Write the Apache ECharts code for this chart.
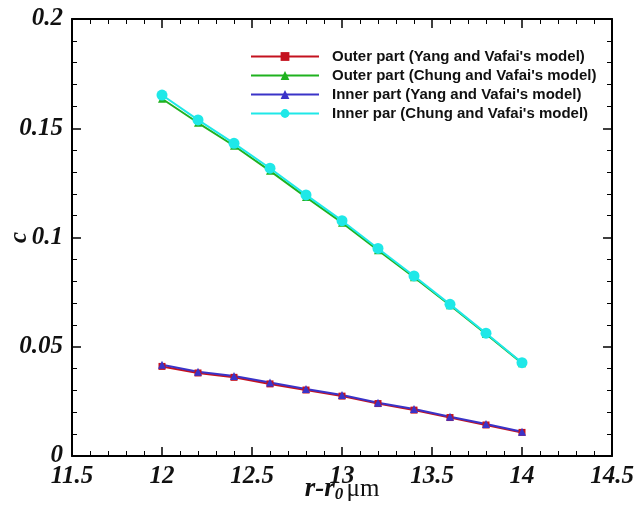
<!DOCTYPE html>
<html>
<head>
<meta charset="utf-8">
<script src="https://cdn.jsdelivr.net/npm/echarts@6/dist/echarts.min.js"></script>
<style>
    html, body { margin: 0; padding: 0; background: #fff; }
    #chart { width: 635px; height: 508px; }
</style>
</head>
<body>
<div id="chart"></div>
<script>
// r - r0 (μm)
var xValues = [12, 12.2, 12.4, 12.6, 12.8, 13, 13.2, 13.4, 13.6, 13.8, 14];

var outerYang  = [0.041, 0.038, 0.036, 0.033, 0.0302, 0.0274, 0.024, 0.021, 0.0176, 0.0142, 0.0108];
var outerChung = [0.1635, 0.1525, 0.142, 0.1305, 0.1185, 0.1068, 0.0942, 0.0818, 0.069, 0.0558, 0.0425];
var innerYang  = [0.0418, 0.0386, 0.0366, 0.0336, 0.0307, 0.0279, 0.0244, 0.0215, 0.018, 0.0146, 0.0111];
var innerChung = [0.1652, 0.1538, 0.1431, 0.1317, 0.1195, 0.1077, 0.095, 0.0824, 0.0694, 0.0562, 0.0427];

var seriesNames = [
    "Outer part (Yang and Vafai's model)",
    "Outer part (Chung and Vafai's model)",
    "Inner part (Yang and Vafai's model)",
    "Inner par (Chung and Vafai's model)"
];

function pairs(ys) {
    return xValues.map(function (x, i) { return [x, ys[i]]; });
}

var serif = 'Liberation Serif';
// bold italic numbers, set through rich text so the slant really shows
var numRich = { t: { fontFamily: serif, fontStyle: 'italic', fontWeight: 'bold', fontSize: 25, color: '#111' } };
var frameLine = { show: true, onZero: false, lineStyle: { color: '#000', width: 2 } };
var majorTick = { inside: true, length: 9, lineStyle: { color: '#000', width: 1.5 } };
var minorTick = { show: true, splitNumber: 5, length: 5, lineStyle: { color: '#000', width: 1 } };

function sideAxis(pos, min, max, interval) {
    return {
        type: 'value', position: pos, min: min, max: max, interval: interval,
        axisLine: frameLine,
        axisTick: majorTick,
        minorTick: minorTick,
        axisLabel: { show: false },
        splitLine: { show: false }
    };
}

function lineSeries(name, ys, color, symbol, size) {
    return {
        name: name,
        type: 'line',
        data: pairs(ys),
        symbol: symbol,
        symbolSize: size,
        lineStyle: { color: color, width: 2 },
        itemStyle: { color: color },
        animation: false
    };
}

var myChart = echarts.init(document.getElementById('chart'));
var option = {
    backgroundColor: '#fff',
    grid: { left: 72, right: 23, top: 19, bottom: 52, outerBoundsMode: 'none', containLabel: false },
    legend: {
        orient: 'vertical',
        left: 245,
        top: 44,
        itemWidth: 68,
        itemHeight: 11,
        itemGap: 4,
        data: seriesNames,
        textStyle: { fontFamily: 'Liberation Sans', fontSize: 15, fontWeight: 'bold', color: '#111', padding: [0, 0, 0, 8] }
    },
    xAxis: [
        {
            type: 'value', position: 'bottom', min: 11.5, max: 14.5, interval: 0.5,
            name: '{a|r-r}{s|0} {b|μm}',
            nameLocation: 'middle',
            nameGap: 19,
            nameMoveOverlap: false,
            nameTextStyle: {
                rich: {
                    a: { fontFamily: serif, fontStyle: 'italic', fontWeight: 'bold', fontSize: 27, color: '#111' },
                    s: { fontFamily: serif, fontStyle: 'italic', fontWeight: 'bold', fontSize: 17, color: '#111', verticalAlign: 'bottom', padding: [11, 0, 0, 0] },
                    b: { fontFamily: serif, fontSize: 25, color: '#111' }
                }
            },
            axisLine: frameLine,
            axisTick: majorTick,
            minorTick: minorTick,
            axisLabel: { margin: 8, showMinLabel: true, showMaxLabel: true, formatter: '{t|{value}}', rich: numRich },
            splitLine: { show: false }
        },
        sideAxis('top', 11.5, 14.5, 0.5)
    ],
    yAxis: [
        {
            type: 'value', position: 'left', min: 0, max: 0.2, interval: 0.05,
            name: '{t|c}',
            nameLocation: 'middle',
            nameGap: 40,
            nameMoveOverlap: false,
            nameTextStyle: { rich: numRich },
            axisLine: frameLine,
            axisTick: majorTick,
            minorTick: minorTick,
            axisLabel: { margin: 9, formatter: '{t|{value}}', rich: numRich },
            splitLine: { show: false }
        },
        sideAxis('right', 0, 0.2, 0.05)
    ],
    series: [
        lineSeries(seriesNames[0], outerYang, '#c4121f', 'rect', 7),
        lineSeries(seriesNames[1], outerChung, '#1fb21f', 'triangle', 8),
        lineSeries(seriesNames[2], innerYang, '#3a33c8', 'triangle', 8),
        lineSeries(seriesNames[3], innerChung, '#1fe8e8', 'circle', 11)
    ]
};
myChart.setOption(option);
</script>
</body>
</html>
